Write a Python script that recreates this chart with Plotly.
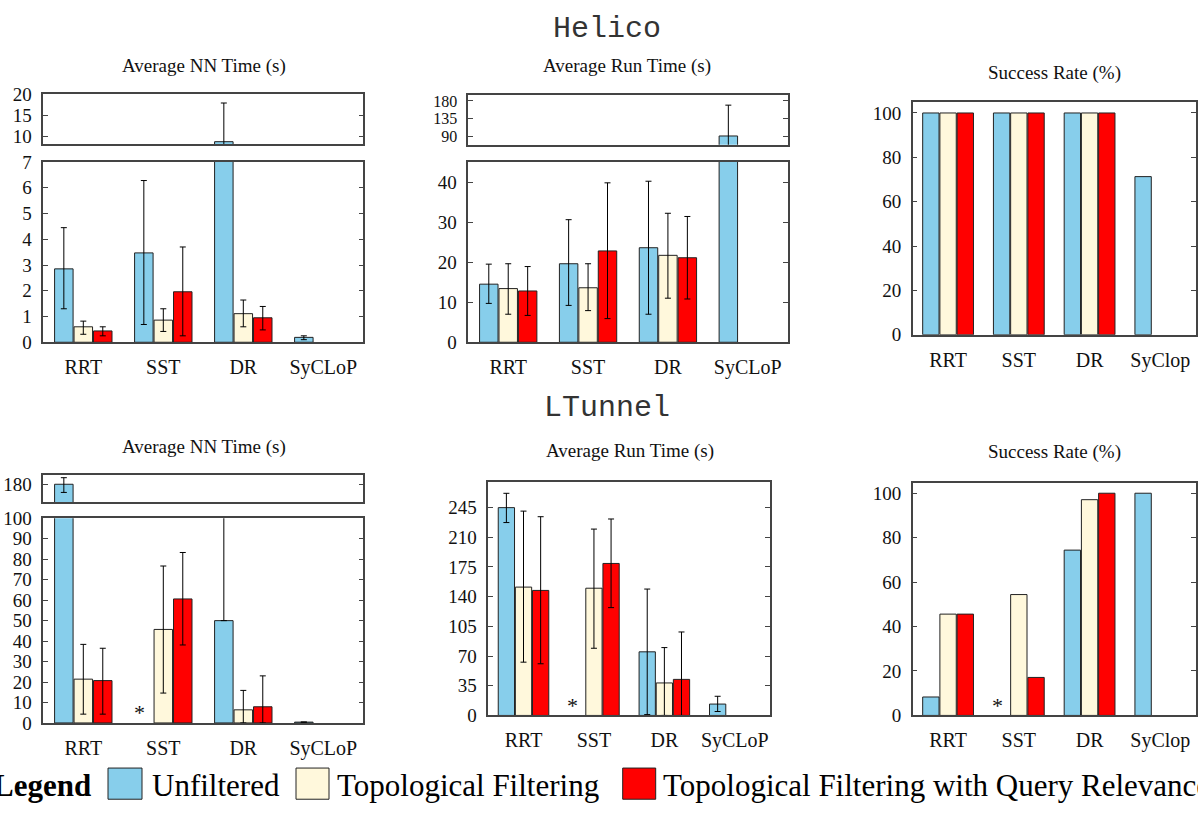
import plotly.graph_objects as go

W, H = 1198, 819

# ---------------- data ----------------
categories_nn_run = ["RRT", "SST", "DR", "SyCLoP"]
categories_success = ["RRT", "SST", "DR", "SyClop"]
series_names = ["Unfiltered", "Topological Filtering", "Topological Filtering with Query Relevance"]
series_colors = ["#87CEEB", "#FFF8DC", "#FF0000"]

# Helico - Average NN Time (s): values / error low / error high
helico_nn_unf = [2.85, 3.47, 8.76, 0.19]
helico_nn_topo = [0.60, 0.86, 1.11, None]
helico_nn_qr = [0.44, 1.96, 0.95, None]
helico_nn_unf_lo = [1.30, 0.69, 7.5, 0.10]
helico_nn_topo_lo = [0.31, 0.42, 0.60, None]
helico_nn_qr_lo = [0.25, 0.25, 0.48, None]
helico_nn_unf_hi = [4.45, 6.28, 17.97, 0.25]
helico_nn_topo_hi = [0.82, 1.30, 1.64, None]
helico_nn_qr_hi = [0.60, 3.70, 1.39, None]

# Helico - Average Run Time (s)
helico_run_unf = [14.5, 19.6, 23.6, 91.7]
helico_run_topo = [13.4, 13.6, 21.7, None]
helico_run_qr = [12.8, 22.8, 21.1, None]
helico_run_unf_lo = [9.7, 9.2, 7.0, 55.0]
helico_run_topo_lo = [7.0, 7.9, 11.0, None]
helico_run_qr_lo = [6.7, 5.9, 10.8, None]
helico_run_unf_hi = [19.5, 30.6, 40.2, 169.4]
helico_run_topo_hi = [19.6, 19.6, 32.2, None]
helico_run_qr_hi = [18.9, 39.8, 31.4, None]

# Helico - Success Rate (%)
helico_succ_unf = [100, 100, 100, 71.3]
helico_succ_topo = [100, 100, 100, None]
helico_succ_qr = [100, 100, 100, None]

# LTunnel - Average NN Time (s)
ltunnel_nn_unf = [180.0, None, 50.0, 0.4]
ltunnel_nn_topo = [21.4, 45.7, 6.4, None]
ltunnel_nn_qr = [20.7, 60.6, 7.9, None]
ltunnel_nn_unf_lo = [176.0, None, 50.0, None]
ltunnel_nn_topo_lo = [4.3, 14.6, 0.0, None]
ltunnel_nn_qr_lo = [4.3, 38.1, 0.0, None]
ltunnel_nn_unf_hi = [183.2, None, 130.0, None]
ltunnel_nn_topo_hi = [38.4, 76.7, 15.9, None]
ltunnel_nn_qr_hi = [36.5, 83.3, 23.0, None]

# LTunnel - Average Run Time (s)
ltunnel_run_unf = [245.0, None, 75.0, 13.4]
ltunnel_run_topo = [151.3, 150.0, 38.3, None]
ltunnel_run_qr = [147.4, 179.2, 42.5, None]
ltunnel_run_unf_lo = [227.4, None, 1.0, 4.6]
ltunnel_run_topo_lo = [62.8, 79.2, 0.0, None]
ltunnel_run_qr_lo = [60.9, 127.1, 0.0, None]
ltunnel_run_unf_hi = [261.9, None, 149.0, 22.6]
ltunnel_run_topo_hi = [240.9, 219.7, 80.0, None]
ltunnel_run_qr_hi = [234.3, 231.6, 98.4, None]

# LTunnel - Success Rate (%)
ltunnel_succ_unf = [8.3, None, 74.4, 100]
ltunnel_succ_topo = [45.6, 54.4, 97.1, None]
ltunnel_succ_qr = [45.6, 17.1, 100, None]

ltunnel_missing = ["SST"]  # marked with * (no unfiltered result)

# ---------------- helpers ----------------
def fx(px):
    return px / W


def fy(py):
    return 1 - py / H


SERIF = "Liberation Serif, Times New Roman, serif"
LINE = "#444444"

fig = go.Figure()


def err_arrays(vals, lo, hi):
    plus, minus = [], []
    for v, l, h in zip(vals, lo, hi):
        if v is None or l is None or h is None:
            plus.append(None)
            minus.append(None)
        else:
            plus.append(h - v)
            minus.append(v - l)
    return plus, minus


def add_bars(ax, series, errs=None):
    xa = "x" if ax == 1 else f"x{ax}"
    ya = "y" if ax == 1 else f"y{ax}"
    for i, vals in enumerate(series):
        kw = {}
        if errs is not None:
            lo, hi = errs[i]
            plus, minus = err_arrays(vals, lo, hi)
            kw["error_y"] = dict(type="data", symmetric=False, array=plus, arrayminus=minus,
                                 color="black", thickness=1, width=3)
        fig.add_trace(go.Bar(
            x=list(range(len(vals))), y=vals, xaxis=xa, yaxis=ya,
            marker=dict(color=series_colors[i], line=dict(color="#222222", width=1)),
            offsetgroup=str(i), showlegend=False, hoverinfo="skip", **kw))


helico_nn = [helico_nn_unf, helico_nn_topo, helico_nn_qr]
helico_nn_err = [(helico_nn_unf_lo, helico_nn_unf_hi), (helico_nn_topo_lo, helico_nn_topo_hi),
                 (helico_nn_qr_lo, helico_nn_qr_hi)]
helico_run = [helico_run_unf, helico_run_topo, helico_run_qr]
helico_run_err = [(helico_run_unf_lo, helico_run_unf_hi), (helico_run_topo_lo, helico_run_topo_hi),
                  (helico_run_qr_lo, helico_run_qr_hi)]
helico_succ = [helico_succ_unf, helico_succ_topo, helico_succ_qr]
ltunnel_nn = [ltunnel_nn_unf, ltunnel_nn_topo, ltunnel_nn_qr]
ltunnel_nn_err = [(ltunnel_nn_unf_lo, ltunnel_nn_unf_hi), (ltunnel_nn_topo_lo, ltunnel_nn_topo_hi),
                  (ltunnel_nn_qr_lo, ltunnel_nn_qr_hi)]
ltunnel_run = [ltunnel_run_unf, ltunnel_run_topo, ltunnel_run_qr]
ltunnel_run_err = [(ltunnel_run_unf_lo, ltunnel_run_unf_hi), (ltunnel_run_topo_lo, ltunnel_run_topo_hi),
                   (ltunnel_run_qr_lo, ltunnel_run_qr_hi)]
ltunnel_succ = [ltunnel_succ_unf, ltunnel_succ_topo, ltunnel_succ_qr]

# axis 1/2: Helico NN lower/upper; 3/4: Helico Run lower/upper; 5: Helico success
# 6/7: LTunnel NN lower/upper; 8: LTunnel Run; 9: LTunnel success
add_bars(1, helico_nn, helico_nn_err)
add_bars(2, helico_nn, helico_nn_err)
add_bars(3, helico_run, helico_run_err)
add_bars(4, helico_run, helico_run_err)
add_bars(5, helico_succ)
add_bars(6, ltunnel_nn, ltunnel_nn_err)
add_bars(7, ltunnel_nn, ltunnel_nn_err)
add_bars(8, ltunnel_run, ltunnel_run_err)
add_bars(9, ltunnel_succ)

# panel geometry in pixels: (x0, x1, ytop, ybottom)
panels = {
    1: (43.3, 363.3, 156, 341),
    2: (43.3, 363.3, 86.7, 138),
    3: (468.3, 787.7, 156, 341),
    4: (468.3, 787.7, 87.7, 138.3),
    5: (912.7, 1195.7, 94.3, 333.3),
    6: (43.3, 363.3, 521.7, 731.7),
    7: (43.3, 363.3, 477.7, 505),
    8: (488.3, 770, 484, 724),
    9: (912.7, 1195.7, 485, 724),
}
yranges = {
    1: [0, 7], 2: [8.1, 20], 3: [0, 45], 4: [69.6, 193.8], 5: [0, 105],
    6: [0, 100], 7: [171.3, 184.3], 8: [0, 275.7], 9: [0, 104.8],
}
yticks = {
    1: [0, 1, 2, 3, 4, 5, 6, 7], 2: [10, 15, 20], 3: [0, 10, 20, 30, 40], 4: [90, 135, 180],
    5: [0, 20, 40, 60, 80, 100], 6: list(range(0, 101, 10)), 7: [180],
    8: list(range(0, 246, 35)), 9: [0, 20, 40, 60, 80, 100],
}
upper = {2, 4, 7}
cat_for = {1: categories_nn_run, 2: categories_nn_run, 3: categories_nn_run, 4: categories_nn_run,
           5: categories_success, 6: categories_nn_run, 7: categories_nn_run, 8: categories_nn_run,
           9: categories_success}

layout = {}
for ax, (x0, x1, yt, yb) in panels.items():
    xn = "xaxis" if ax == 1 else f"xaxis{ax}"
    yn = "yaxis" if ax == 1 else f"yaxis{ax}"
    ya = "y" if ax == 1 else f"y{ax}"
    xa = "x" if ax == 1 else f"x{ax}"
    layout[xn] = dict(domain=[fx(x0), fx(x1)], range=[-0.5, 3.5], anchor=ya,
                      tickvals=[0, 1, 2, 3], ticktext=cat_for[ax], showticklabels=ax not in upper,
                      showline=True, mirror=True, linecolor=LINE, linewidth=1.5, ticks="",
                      showgrid=False, zeroline=False, ticklabelstandoff=6,
                      tickfont=dict(family=SERIF, size=20, color="#111111"))
    layout[yn] = dict(domain=[fy(yb), fy(yt)], range=yranges[ax], anchor=xa,
                      tickvals=yticks[ax], showline=True, mirror="ticks", linecolor=LINE,
                      linewidth=1.5, ticks="inside", ticklen=5, tickcolor=LINE, tickwidth=1,
                      showgrid=False, zeroline=False, ticklabelstandoff=6,
                      tickfont=dict(family=SERIF, size=19 if ax != 4 else 16, color="#111111"))

annotations = []
MONO = "Liberation Mono, Courier New, monospace"
# group titles
for txt, cy in [("Helico", 20), ("LTunnel", 408)]:
    annotations.append(dict(text=txt, x=fx(607), y=fy(cy), xref="paper", yref="paper",
                            xanchor="center", yanchor="middle", showarrow=False,
                            font=dict(family=MONO, size=30, color="#333333")))
# subplot titles
for txt, cx, cy in [("Average NN Time (s)", 204, 57), ("Average Run Time (s)", 627, 57),
                    ("Success Rate (%)", 1054, 65), ("Average NN Time (s)", 204, 448),
                    ("Average Run Time (s)", 630, 453), ("Success Rate (%)", 1054, 454)]:
    annotations.append(dict(text=txt, x=fx(cx), y=fy(cy), xref="paper", yref="paper",
                            xanchor="center", yanchor="middle", showarrow=False,
                            font=dict(family=SERIF, size=19, color="#111111")))

# missing-result stars
for ax, py in [(6, 721), (8, 714), (9, 714)]:
    xa = "x" if ax == 1 else f"x{ax}"
    for cat in ltunnel_missing:
        idx = cat_for[ax].index(cat)
        annotations.append(dict(text="*", x=idx - 0.3, y=fy(py), xref=xa, yref="paper",
                                xanchor="center", yanchor="middle", showarrow=False,
                                font=dict(family=SERIF, size=22, color="#111111")))

# legend
annotations.append(dict(text="<b>Legend</b>", x=fx(93), y=fy(796), xref="paper", yref="paper",
                        xanchor="right", yanchor="middle", showarrow=False,
                        font=dict(family=SERIF, size=31, color="black")))
legend_swatch_x = [(108, 142), (296, 329), (622.7, 655.7)]
legend_text_x = [150, 335, 661]
shapes = []
for i, name in enumerate(series_names):
    a, b = legend_swatch_x[i]
    shapes.append(dict(type="rect", xref="paper", yref="paper", x0=fx(a), x1=fx(b),
                       y0=fy(810), y1=fy(778), fillcolor=series_colors[i],
                       line=dict(color="#222222", width=1)))
    annotations.append(dict(text=name, x=fx(legend_text_x[i]), y=fy(796), xref="paper", yref="paper",
                            xanchor="left", yanchor="middle", showarrow=False,
                            font=dict(family=SERIF, size=31, color="black")))

fig.update_layout(
    width=W, height=H, autosize=False,
    margin=dict(l=0, r=0, t=0, b=0),
    paper_bgcolor="white", plot_bgcolor="white",
    barmode="group", bargap=0.27, bargroupgap=0.05,
    showlegend=False,
    annotations=annotations, shapes=shapes,
    **layout,
)

post = (
    "document.documentElement.style.margin='0';document.documentElement.style.padding='0';"
    "document.body.style.margin='0';document.body.style.padding='0';"
    "var gd=document.getElementById('{plot_id}');"
    "gd.style.position='fixed';gd.style.top='0px';gd.style.left='0px';"
)
fig.write_html("out.html", config={"displayModeBar": False}, post_script=post)
